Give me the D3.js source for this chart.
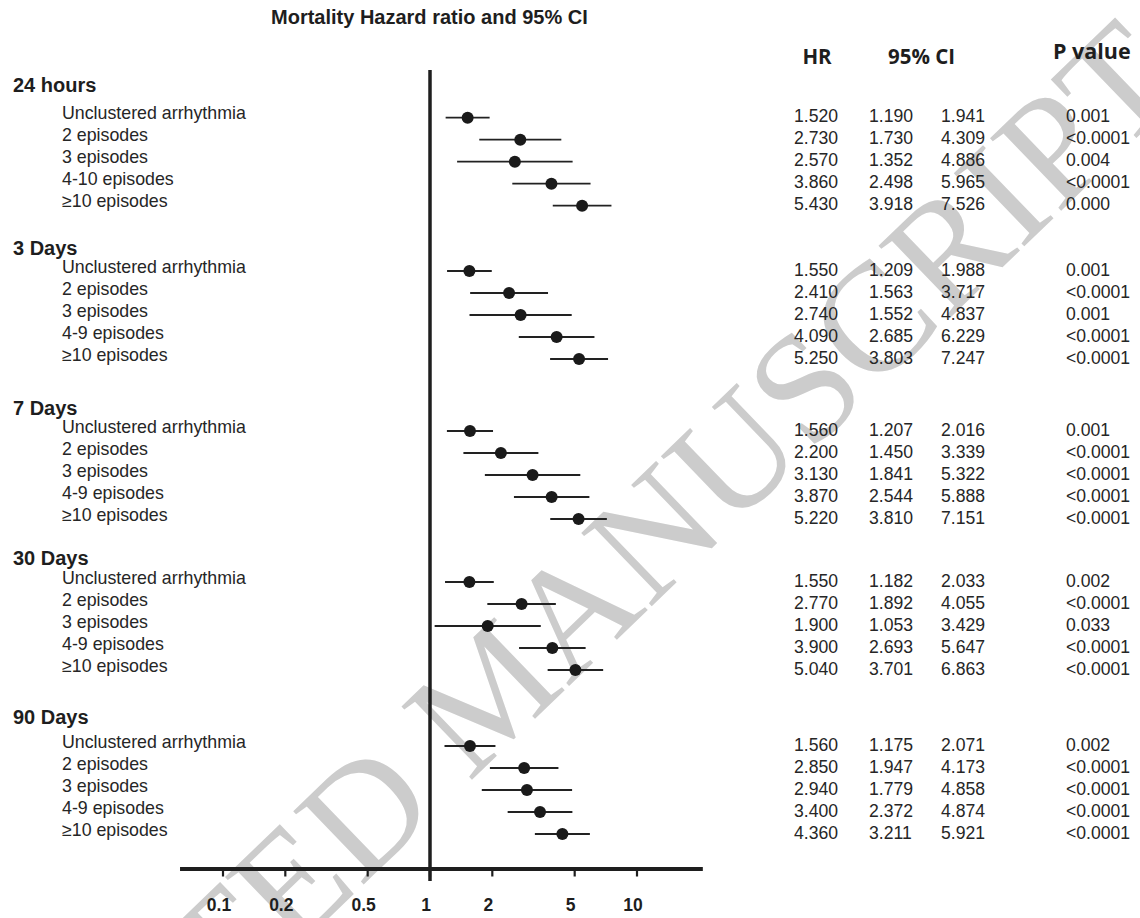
<!DOCTYPE html>
<html>
<head>
<meta charset="utf-8">
<script src="https://cdn.jsdelivr.net/npm/d3@7"></script>
<style>
  html, body { margin: 0; padding: 0; background: #fff; }
  svg { display: block; }
</style>
</head>
<body>
<svg id="chart" width="1140" height="918"></svg>
<script>
// ---------------- DATA ----------------
const groups = ["24 hours", "3 Days", "7 Days", "30 Days", "90 Days"];
const rowLabels24h = ["Unclustered arrhythmia", "2 episodes", "3 episodes", "4-10 episodes", "\u226510 episodes"];
const rowLabels = ["Unclustered arrhythmia", "2 episodes", "3 episodes", "4-9 episodes", "\u226510 episodes"];

const hr24h = [1.520, 2.730, 2.570, 3.860, 5.430];
const lo24h = [1.190, 1.730, 1.352, 2.498, 3.918];
const hi24h = [1.941, 4.309, 4.886, 5.965, 7.526];
const p24h  = ["0.001", "<0.0001", "0.004", "<0.0001", "0.000"];

const hr3d = [1.550, 2.410, 2.740, 4.090, 5.250];
const lo3d = [1.209, 1.563, 1.552, 2.685, 3.803];
const hi3d = [1.988, 3.717, 4.837, 6.229, 7.247];
const p3d  = ["0.001", "<0.0001", "0.001", "<0.0001", "<0.0001"];

const hr7d = [1.560, 2.200, 3.130, 3.870, 5.220];
const lo7d = [1.207, 1.450, 1.841, 2.544, 3.810];
const hi7d = [2.016, 3.339, 5.322, 5.888, 7.151];
const p7d  = ["0.001", "<0.0001", "<0.0001", "<0.0001", "<0.0001"];

const hr30d = [1.550, 2.770, 1.900, 3.900, 5.040];
const lo30d = [1.182, 1.892, 1.053, 2.693, 3.701];
const hi30d = [2.033, 4.055, 3.429, 5.647, 6.863];
const p30d  = ["0.002", "<0.0001", "0.033", "<0.0001", "<0.0001"];

const hr90d = [1.560, 2.850, 2.940, 3.400, 4.360];
const lo90d = [1.175, 1.947, 1.779, 2.372, 3.211];
const hi90d = [2.071, 4.173, 4.858, 4.874, 5.921];
const p90d  = ["0.002", "<0.0001", "<0.0001", "<0.0001", "<0.0001"];

const tickValues = [0.1, 0.2, 0.5, 1, 2, 5, 10];
const tickLabels = ["0.1", "0.2", "0.5", "1", "2", "5", "10"];
const axisExtent = [0.062, 20.8];

const title = "Mortality Hazard ratio and 95% CI";
const colHeaders = ["HR", "95% CI", "P value"];
const watermark = "ACCEPTED MANUSCRIPT";

// ---------------- BUILD TABLE ----------------
const groupData = [
  {name: groups[0], labels: rowLabels24h, hr: hr24h, lo: lo24h, hi: hi24h, p: p24h},
  {name: groups[1], labels: rowLabels,    hr: hr3d,  lo: lo3d,  hi: hi3d,  p: p3d},
  {name: groups[2], labels: rowLabels,    hr: hr7d,  lo: lo7d,  hi: hi7d,  p: p7d},
  {name: groups[3], labels: rowLabels,    hr: hr30d, lo: lo30d, hi: hi30d, p: p30d},
  {name: groups[4], labels: rowLabels,    hr: hr90d, lo: lo90d, hi: hi90d, p: p90d}
];

// ---------------- LAYOUT ----------------
const groupHeaderY = [85, 248, 408, 558, 717];
const groupFirstRowY = [117.7, 271, 431, 582, 746];
const rowStep = 22;
const axisY = 869;

const rows = [];
groupData.forEach((g, gi) => {
  g.labels.forEach((lab, i) => {
    rows.push({g: gi, i, label: lab, hr: g.hr[i], lo: g.lo[i], hi: g.hi[i], p: g.p[i],
               y: groupFirstRowY[gi] + i * rowStep});
  });
});

const x = d3.scaleLog().domain([0.1, 10]).range([223, 637]);
const fmt = d3.format(".3f");

const svg = d3.select("#chart");
const ink = "#1e1e1e";

// watermark (behind)
svg.append("text")
  .attr("transform", "translate(490,690) rotate(-44)")
  .attr("text-anchor", "middle")
  .attr("dominant-baseline", "central")
  .attr("font-family", "'Liberation Serif', 'Times New Roman', serif")
  .attr("font-size", 155)
  .attr("fill", "#cccccc")
  .text(watermark);

// title
svg.append("text")
  .attr("x", 271).attr("y", 17)
  .attr("dominant-baseline", "central")
  .attr("font-family", "'Liberation Sans', Arial, sans-serif")
  .attr("font-weight", "bold")
  .attr("font-size", 20)
  .attr("fill", ink)
  .text(title);

// column headers
const headerFont = "'Open Sans', 'Liberation Sans', sans-serif";
svg.append("text").attr("x", 817).attr("y", 64).attr("text-anchor", "middle")
  .attr("font-family", headerFont)
  .attr("font-weight", "bold").attr("font-size", 20.5).attr("fill", ink).text(colHeaders[0]);
svg.append("text").attr("x", 921.5).attr("y", 64).attr("text-anchor", "middle")
  .attr("font-family", headerFont)
  .attr("font-weight", "bold").attr("font-size", 20.5).attr("fill", ink).text(colHeaders[1]);
svg.append("text").attr("x", 1053).attr("y", 59).attr("text-anchor", "start")
  .attr("font-family", headerFont)
  .attr("font-weight", "bold").attr("font-size", 21.5).attr("fill", ink).text(colHeaders[2]);

const labelFont = "'Liberation Sans', Arial, sans-serif";

// group headers
svg.selectAll("text.ghead").data(groupData).join("text")
  .attr("class", "ghead")
  .attr("x", 13)
  .attr("y", (d, i) => groupHeaderY[i])
  .attr("dominant-baseline", "central")
  .attr("font-family", labelFont)
  .attr("font-weight", "bold")
  .attr("font-size", 20)
  .attr("fill", ink)
  .text(d => d.name);

// row labels
svg.selectAll("text.rlab").data(rows).join("text")
  .attr("class", "rlab")
  .attr("x", 62)
  .attr("y", d => d.y - 4.5)
  .attr("dominant-baseline", "central")
  .attr("font-family", labelFont)
  .attr("font-size", 17.8)
  .attr("fill", "#262626")
  .text(d => d.label);

// numbers
const numCols = [
  {x: 794, f: d => fmt(d.hr)},
  {x: 869, f: d => fmt(d.lo)},
  {x: 941, f: d => fmt(d.hi)},
  {x: 1066, f: d => d.p}
];
numCols.forEach((c, ci) => {
  svg.selectAll("text.num" + ci).data(rows).join("text")
    .attr("class", "num" + ci)
    .attr("x", c.x)
    .attr("y", d => d.y - 1.5)
    .attr("dominant-baseline", "central")
    .attr("font-family", labelFont)
    .attr("font-size", 17.6)
    .attr("fill", "#262626")
    .text(c.f);
});

// reference line at HR = 1
svg.append("line")
  .attr("x1", x(1)).attr("x2", x(1))
  .attr("y1", 70).attr("y2", 881)
  .attr("stroke", ink).attr("stroke-width", 3.5);

// x axis
svg.append("line")
  .attr("x1", x(axisExtent[0])).attr("x2", x(axisExtent[1]))
  .attr("y1", axisY).attr("y2", axisY)
  .attr("stroke", ink).attr("stroke-width", 4);

svg.selectAll("line.tick").data(tickValues).join("line")
  .attr("class", "tick")
  .attr("x1", d => x(d)).attr("x2", d => x(d))
  .attr("y1", axisY).attr("y2", axisY + 7.5)
  .attr("stroke", ink).attr("stroke-width", 2.2);

svg.selectAll("text.tlab").data(tickValues).join("text")
  .attr("class", "tlab")
  .attr("x", d => x(d) - 4)
  .attr("y", 905)
  .attr("text-anchor", "middle")
  .attr("dominant-baseline", "central")
  .attr("font-family", labelFont)
  .attr("font-weight", "bold")
  .attr("font-size", 17.5)
  .attr("fill", ink)
  .text((d, i) => tickLabels[i]);

// CI lines
svg.selectAll("line.ci").data(rows).join("line")
  .attr("class", "ci")
  .attr("x1", d => x(d.lo)).attr("x2", d => x(d.hi))
  .attr("y1", d => d.y).attr("y2", d => d.y)
  .attr("stroke", "#222").attr("stroke-width", 1.8);

// points
svg.selectAll("circle.pt").data(rows).join("circle")
  .attr("class", "pt")
  .attr("cx", d => x(d.hr)).attr("cy", d => d.y)
  .attr("r", 6)
  .attr("fill", "#1a1a1a");
</script>
</body>
</html>
